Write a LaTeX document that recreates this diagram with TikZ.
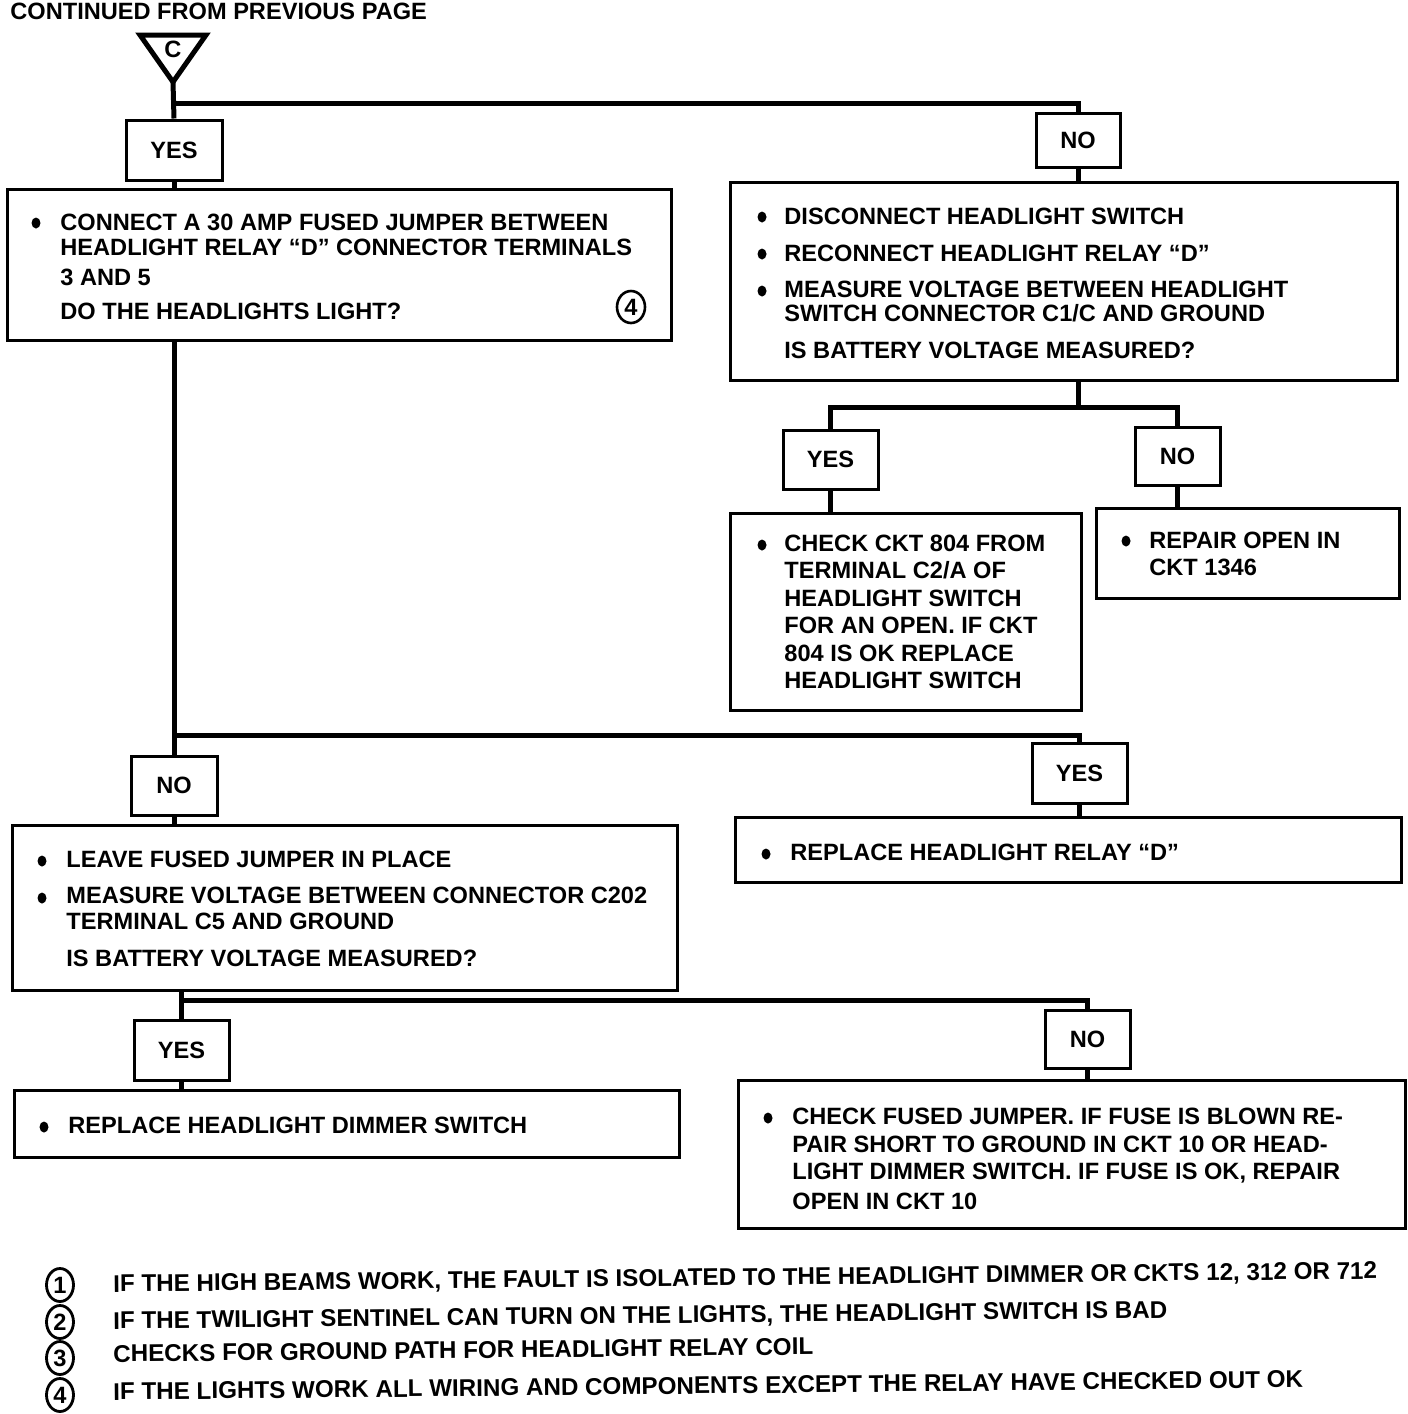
\documentclass[tikz,border=0pt]{standalone}
\usepackage{fontspec}
\setmainfont{Liberation Sans}
\usetikzlibrary{fit,shapes.geometric}
\newcommand\fz{\fontsize{11.8pt}{14pt}\selectfont\bfseries}
\newcommand\fzn{\fontsize{12.1pt}{14pt}\selectfont\bfseries}
\begin{document}
\begin{tikzpicture}[x=0.5pt,y=-0.5pt,
  conn/.style={line width=2.5pt, line join=miter},
  box/.style={draw, line width=1.5pt, inner sep=0pt},
  lab/.style={inner sep=0pt, font=\fz},
  txt/.style={anchor=base west, inner sep=0pt, font=\fz},
  bul/.style={ellipse, fill, inner sep=0pt, minimum width=4.5pt, minimum height=5.5pt},
  num/.style={ellipse, draw, line width=1.3pt, inner sep=0pt, minimum width=14pt, minimum height=16pt, font=\fz},
  fnum/.style={ellipse, draw, line width=1.4pt, inner sep=0pt, minimum width=13.5pt, minimum height=16.5pt, font=\fz},
  fn/.style={anchor=base west, inner sep=0pt, font=\fzn, rotate=0.6}]
\useasboundingbox (0,0) rectangle (1408,1414);

% title and continuation triangle
\node[txt] (title) at (10,19) {CONTINUED FROM PREVIOUS PAGE};
\draw[line width=2.5pt, line join=miter] (140,35) -- (206,35) -- (173,82) -- cycle;
\coordinate (tri) at (173,82);
\node[lab] (triC) at (173,49) {C};

% decision boxes
\node[box, fit={(126,120) (222,180)}] (yes1) {};
\node[box, fit={(1036,113) (1120,167)}] (no1) {};
\node[box, fit={(783,430) (878,489)}] (yes2) {};
\node[box, fit={(1135,427) (1220,485)}] (no2) {};
\node[box, fit={(131,756) (217,815)}] (no3) {};
\node[box, fit={(1032,743) (1127,803)}] (yes3) {};
\node[box, fit={(134,1020) (229,1080)}] (yes4) {};
\node[box, fit={(1045,1010) (1130,1068)}] (no4) {};
\node[lab] (yes1l) at (yes1.center) {YES};
\node[lab] (no1l) at (no1.center) {NO};
\node[lab] (yes2l) at (yes2.center) {YES};
\node[lab] (no2l) at (no2.center) {NO};
\node[lab] (no3l) at (no3.center) {NO};
\node[lab] (yes3l) at (yes3.center) {YES};
\node[lab] (yes4l) at (yes4.center) {YES};
\node[lab] (no4l) at (no4.center) {NO};

% action boxes
\node[box, fit={(7,189) (671,340)}] (b1) {};
\node[box, fit={(730,182) (1397,380)}] (b2) {};
\node[box, fit={(730,513) (1081,710)}] (b3) {};
\node[box, fit={(1096,508) (1399,598)}] (b4) {};
\node[box, fit={(12,825) (677,990)}] (b5) {};
\node[box, fit={(735,817) (1401,882)}] (b6) {};
\node[box, fit={(14,1090) (679,1157)}] (b7) {};
\node[box, fit={(738,1080) (1405,1228)}] (b8) {};

% junctions
\coordinate (j1) at (174,103);
\coordinate (j2) at (1078,407);
\coordinate (j3) at (174,735);
\coordinate (j4) at (181.5,1000);

% connectors
\draw[conn] (tri) -- (yes1.north);
\draw[conn] (j1) -- (j1 -| no1.north) -- (no1.north);
\draw[conn] (yes1.south) -- (yes1.south |- b1.north);
\draw[conn] (no1.south) -- (no1.south |- b2.north);
\draw[conn] (b2.south -| j2) -- (j2);
\draw[conn] (yes2.north) -- (yes2.north |- j2) -- (no2.north |- j2) -- (no2.north);
\draw[conn] (yes2.south) -- (yes2.south |- b3.north);
\draw[conn] (no2.south) -- (no2.south |- b4.north);
\draw[conn] (b1.south -| j3) -- (no3.north);
\draw[conn] (j3) -- (j3 -| yes3.north) -- (yes3.north);
\draw[conn] (no3.south) -- (no3.south |- b5.north);
\draw[conn] (yes3.south) -- (yes3.south |- b6.north);
\draw[conn] (b5.south -| j4) -- (yes4.north);
\draw[conn] (j4) -- (j4 -| no4.north) -- (no4.north);
\draw[conn] (yes4.south) -- (yes4.south |- b7.north);
\draw[conn] (no4.south) -- (no4.south |- b8.north);

% box 1 text
\node[bul] (b1d1) at (36,223) {};
\node[txt] (b1t1) at (60,230) {CONNECT A 30 AMP FUSED JUMPER BETWEEN};
\node[txt] (b1t2) at (60,255) {HEADLIGHT RELAY “D” CONNECTOR TERMINALS};
\node[txt] (b1t3) at (60,285) {3 AND 5};
\node[txt] (b1t4) at (60,319) {DO THE HEADLIGHTS LIGHT?};
\node[num] (b1n) at (631,307) {4};

% box 2 text
\node[bul] (b2d1) at (762,217) {};
\node[bul] (b2d2) at (762,254) {};
\node[bul] (b2d3) at (762,291) {};
\node[txt] (b2t1) at (784,224) {DISCONNECT HEADLIGHT SWITCH};
\node[txt] (b2t2) at (784,261) {RECONNECT HEADLIGHT RELAY “D”};
\node[txt] (b2t3) at (784,297) {MEASURE VOLTAGE BETWEEN HEADLIGHT};
\node[txt] (b2t4) at (784,321) {SWITCH CONNECTOR C1/C AND GROUND};
\node[txt] (b2t5) at (784,358) {IS BATTERY VOLTAGE MEASURED?};

% box 3 text
\node[bul] (b3d1) at (762,545) {};
\node[txt] (b3t1) at (784,551) {CHECK CKT 804 FROM};
\node[txt] (b3t2) at (784,578) {TERMINAL C2/A OF};
\node[txt] (b3t3) at (784,606) {HEADLIGHT SWITCH};
\node[txt] (b3t4) at (784,633) {FOR AN OPEN. IF CKT};
\node[txt] (b3t5) at (784,661) {804 IS OK REPLACE};
\node[txt] (b3t6) at (784,688) {HEADLIGHT SWITCH};

% box 4 text
\node[bul] (b4d1) at (1126,541) {};
\node[txt] (b4t1) at (1149,548) {REPAIR OPEN IN};
\node[txt] (b4t2) at (1149,575) {CKT 1346};

% box 5 text
\node[bul] (b5d1) at (42,861) {};
\node[bul] (b5d2) at (42,898) {};
\node[txt] (b5t1) at (66,867) {LEAVE FUSED JUMPER IN PLACE};
\node[txt] (b5t2) at (66,903) {MEASURE VOLTAGE BETWEEN CONNECTOR C202};
\node[txt] (b5t3) at (66,929) {TERMINAL C5 AND GROUND};
\node[txt] (b5t4) at (66,966) {IS BATTERY VOLTAGE MEASURED?};

% box 6 text
\node[bul] (b6d1) at (766,854) {};
\node[txt] (b6t1) at (790,860) {REPLACE HEADLIGHT RELAY “D”};

% box 7 text
\node[bul] (b7d1) at (44,1127) {};
\node[txt] (b7t1) at (68,1133) {REPLACE HEADLIGHT DIMMER SWITCH};

% box 8 text
\node[bul] (b8d1) at (768,1118) {};
\node[txt] (b8t1) at (792,1124) {CHECK FUSED JUMPER. IF FUSE IS BLOWN RE-};
\node[txt] (b8t2) at (792,1152) {PAIR SHORT TO GROUND IN CKT 10 OR HEAD-};
\node[txt] (b8t3) at (792,1179) {LIGHT DIMMER SWITCH. IF FUSE IS OK, REPAIR};
\node[txt] (b8t4) at (792,1209) {OPEN IN CKT 10};

% footnotes
\node[fnum] (f1n) at (60,1285) {1};
\node[fnum] (f2n) at (60,1322) {2};
\node[fnum] (f3n) at (60,1358) {3};
\node[fnum] (f4n) at (60,1395) {4};
\node[fn] (f1t) at (113,1292) {IF THE HIGH BEAMS WORK, THE FAULT IS ISOLATED TO THE HEADLIGHT DIMMER OR CKTS 12, 312 OR 712};
\node[fn] (f2t) at (113,1329) {IF THE TWILIGHT SENTINEL CAN TURN ON THE LIGHTS, THE HEADLIGHT SWITCH IS BAD};
\node[fn] (f3t) at (113,1362) {CHECKS FOR GROUND PATH FOR HEADLIGHT RELAY COIL};
\node[fn] (f4t) at (113,1400) {IF THE LIGHTS WORK ALL WIRING AND COMPONENTS EXCEPT THE RELAY HAVE CHECKED OUT OK};
\end{tikzpicture}
\end{document}
